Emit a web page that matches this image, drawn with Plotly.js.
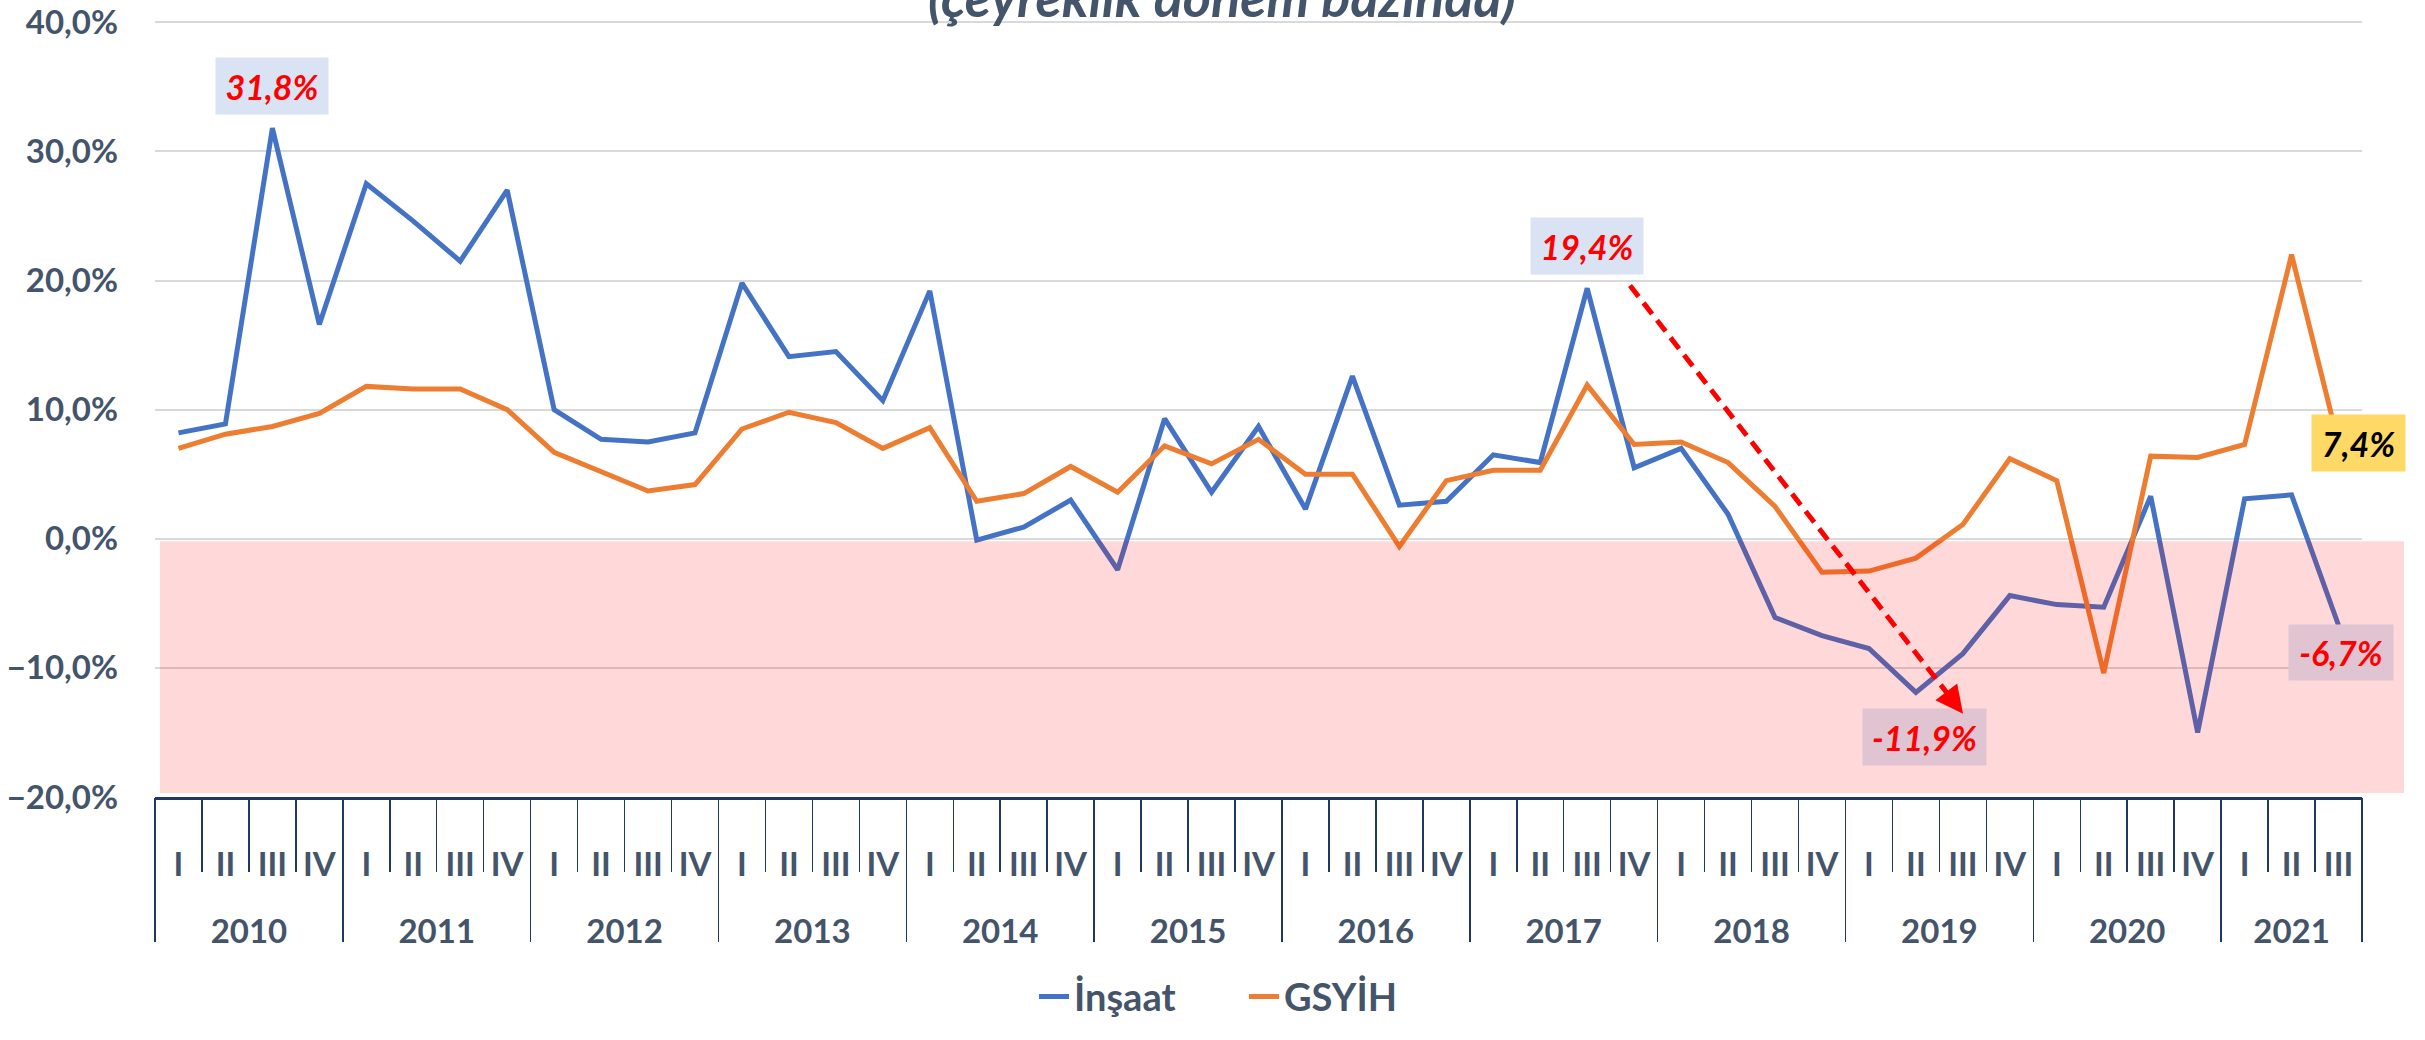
<!DOCTYPE html>
<html>
<head>
<meta charset="utf-8">
<script src="https://cdn.plot.ly/plotly-3.0.1.min.js"></script>
<style>
  html, body { margin: 0; padding: 0; background: #ffffff; }
  #chart { width: 2425px; height: 1040px; }
</style>
</head>
<body>
<div id="chart"></div>
<script>
// ---- data ----
const years = ['2010','2011','2012','2013','2014','2015','2016','2017','2018','2019','2020','2021'];
const quarters = ['I','II','III','IV'];
const quartersPerYear = [4,4,4,4,4,4,4,4,4,4,4,3];

const insaat = [
  8.2, 8.9, 31.8, 16.6,
  27.5, 24.6, 21.5, 27.0,
  10.0, 7.7, 7.5, 8.2,
  19.8, 14.1, 14.5, 10.7,
  19.2, -0.1, 0.9, 3.0,
  -2.4, 9.3, 3.6, 8.7,
  2.3, 12.6, 2.6, 2.9,
  6.5, 5.9, 19.4, 5.5,
  7.0, 1.9, -6.1, -7.5,
  -8.5, -11.9, -8.9, -4.4,
  -5.1, -5.3, 3.3, -15.0,
  3.1, 3.4, -6.7
];
const gsyih = [
  7.0, 8.1, 8.7, 9.7,
  11.8, 11.6, 11.6, 10.0,
  6.7, 5.2, 3.7, 4.2,
  8.5, 9.8, 9.0, 7.0,
  8.6, 2.9, 3.5, 5.6,
  3.6, 7.2, 5.8, 7.7,
  5.0, 5.0, -0.6, 4.5,
  5.3, 5.3, 11.9, 7.3,
  7.5, 5.9, 2.5, -2.6,
  -2.5, -1.5, 1.1, 6.2,
  4.5, -10.4, 6.4, 6.3,
  7.3, 22.0, 7.4
];
const seriesNames = ['İnşaat', 'GSYİH'];
const titleText = '(çeyreklik dönem bazında)';

// ---- build the two-level category axis from the arrays ----
const idx = [], qLabels = [], yearCenters = [], yearBounds = [-0.5];
let k = 0;
years.forEach((y, yi) => {
  const n = quartersPerYear[yi];
  yearCenters.push(k + (n - 1) / 2);
  for (let q = 0; q < n; q++) { idx.push(k); qLabels.push(quarters[q]); k++; }
  yearBounds.push(k - 0.5);
});
const qBounds = [-0.5].concat(idx.map(i => i + 0.5));
const xRange = [-0.5, idx.length - 0.5];

const fmt = v => v.toFixed(1).replace('.', ',') + '%';

const FONT = 'Lato, "Open Sans", sans-serif';
const TXT = '#44546A';
const NAVY = '#1F3864';

const traces = [
  { type: 'scatter', mode: 'lines', name: seriesNames[0], x: idx, y: insaat,
    line: { color: '#4472C4', width: 5 }, hoverinfo: 'skip' },
  { type: 'scatter', mode: 'lines', name: seriesNames[1], x: idx, y: gsyih,
    line: { color: '#ED7D31', width: 5 }, hoverinfo: 'skip' },
  { type: 'scatter', mode: 'lines', x: [], y: [], xaxis: 'x2', showlegend: false, hoverinfo: 'skip' }
];

// decoration placement helpers (paper coords of the plot box)
const L = 155, R = 2362, T = 21, B = 813;
const px = p => (p - L) / (R - L);
const py = p => (B - p) / (B - T);

const boxFont = (c) => ({ family: FONT, size: 34, color: c, weight: 'bold', style: 'italic' });
const box = (x, y, text, bg, w, h, c) => ({
  xref: 'paper', yref: 'paper', x: px(x), y: py(y), xanchor: 'center', yanchor: 'middle',
  text: text, showarrow: false, bgcolor: bg, width: w, height: h, font: boxFont(c)
});

const annotations = [
  box(272, 87, fmt(insaat[2]), '#DAE3F3', 110, 54, '#FF0000'),
  box(1587, 251, fmt(insaat[30]), '#DAE3F3', 110, 54, '#FF0000'),
  box(2358, 452, fmt(gsyih[46]), '#FFD966', 91, 54, '#000000'),
  box(2341, 666, fmt(insaat[46]), '#E0C4D2', 102, 53, '#FF0000'),
  box(1924, 752, fmt(insaat[37]), '#E0C4D2', 121, 54, '#FF0000'),
  // arrow head of the dashed trend arrow
  { xref: 'paper', yref: 'paper', x: px(1963), y: py(728), ax: -13, ay: -17, text: '',
    showarrow: true, arrowhead: 2, arrowsize: 1.1, arrowwidth: 5, arrowcolor: '#FF0000', standoff: 0 }
];

const shapes = [
  { type: 'rect', xref: 'paper', yref: 'paper', x0: px(160), x1: px(2404), y0: py(809), y1: py(552),
    fillcolor: 'rgba(255,0,0,0.15)', line: { width: 0 }, layer: 'above' },
  { type: 'line', xref: 'paper', yref: 'paper', x0: px(1630), y0: py(291), x1: px(1954), y1: py(716),
    line: { color: '#FF0000', width: 5, dash: '14px,8px' }, layer: 'above' }
];

const tickFont = { family: FONT, size: 33, color: TXT, weight: 'bold' };

const layout = {
  width: 2425, height: 1040,
  margin: { l: L, r: 2425 - R, t: T, b: 1040 - B, pad: 0 },
  paper_bgcolor: '#ffffff', plot_bgcolor: '#ffffff',
  separators: ',.',
  font: { family: FONT, color: TXT },
  title: { text: titleText, x: 1222 / 2425, xanchor: 'center', xref: 'container',
           y: 1 - 17 / 1040, yref: 'container', yanchor: 'bottom',
           font: { family: FONT, size: 54, color: TXT, weight: 'bold', style: 'italic' } },
  showlegend: true,
  legend: { orientation: 'h', x: px(1034), xanchor: 'left', y: py(1017), yanchor: 'middle',
            font: { family: FONT, size: 38, color: TXT, weight: 'bold' }, bgcolor: 'rgba(0,0,0,0)',
            entrywidth: 165, entrywidthmode: 'pixels' },
  xaxis: {
    type: 'linear', range: xRange, fixedrange: true,
    tickmode: 'array', tickvals: idx, ticktext: qLabels, ticks: '',
    showline: true, linecolor: NAVY, linewidth: 3,
    showgrid: false, zeroline: false,
    ticklabelstandoff: 36, ticklabeloverflow: 'allow',
    tickfont: tickFont,
    minor: { tickmode: 'array', tickvals: qBounds, ticks: 'outside', ticklen: 72,
             tickwidth: 1.5, tickcolor: NAVY, showgrid: false }
  },
  xaxis2: {
    type: 'linear', range: xRange, overlaying: 'x', anchor: 'y', side: 'bottom', fixedrange: true,
    tickmode: 'array', tickvals: yearCenters, ticktext: years, ticks: '',
    showline: false, showgrid: false, zeroline: false,
    ticklabelstandoff: 112, ticklabeloverflow: 'allow',
    tickfont: tickFont,
    minor: { tickmode: 'array', tickvals: yearBounds, ticks: 'outside', ticklen: 144,
             tickwidth: 1.5, tickcolor: NAVY, showgrid: false }
  },
  yaxis: {
    range: [-20, 40.1], tick0: 0, dtick: 10, tickformat: '.1f', ticksuffix: '%',
    fixedrange: true,
    gridcolor: '#D9D9D9', gridwidth: 2, zeroline: false, showline: false,
    ticklabelstandoff: 36, ticklabeloverflow: 'allow',
    tickfont: tickFont
  },
  annotations: annotations,
  shapes: shapes
};

Plotly.newPlot('chart', traces, layout, { staticPlot: true, displayModeBar: false });
</script>
</body>
</html>
